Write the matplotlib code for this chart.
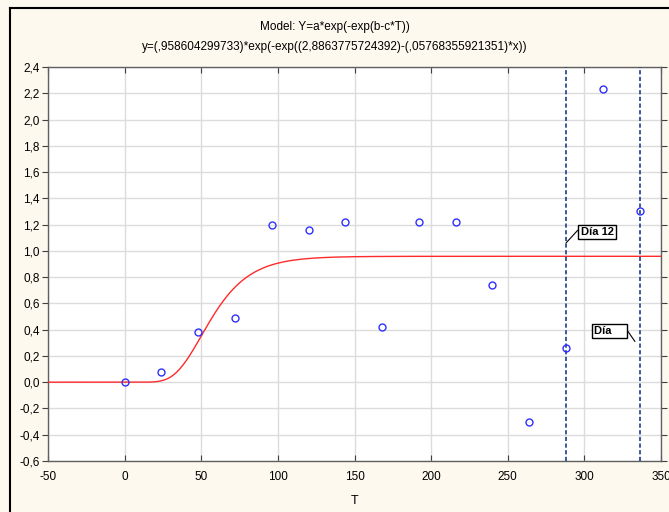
import matplotlib.pyplot as plt
import matplotlib.lines as mlines
import numpy as np

# observed points
t_obs = [0, 24, 48, 72, 96, 120, 144, 168, 192, 216, 240, 264, 288, 312, 336]
y_obs = [0.0, 0.08, 0.38, 0.49, 1.20, 1.16, 1.22, 0.42, 1.22, 1.22, 0.74, -0.30, 0.26, 2.23, 1.30]

# fitted gompertz model parameters (from the title)
a = 0.958604299733
b = 2.8863775724392
c = 0.05768355921351

# marker days
dia_lines = [288, 336]

xticks = [-50, 0, 50, 100, 150, 200, 250, 300, 350]
yticks = [-0.6, -0.4, -0.2, 0.0, 0.2, 0.4, 0.6, 0.8, 1.0, 1.2, 1.4, 1.6, 1.8, 2.0, 2.2, 2.4]

plt.rcParams['font.family'] = ['Liberation Sans', 'DejaVu Sans']

fig = plt.figure(figsize=(6.69, 5.12), dpi=100)
fig.patch.set_facecolor('#fdf9ee')
ax = fig.add_axes([48/669, 1 - 461/512, (661 - 48)/669, (461 - 67)/512])
ax.set_facecolor('white')

# window border (left + top)
fig.add_artist(mlines.Line2D([10/669, 10/669], [0, 1 - 8/512], color='black', lw=1.5, transform=fig.transFigure))
fig.add_artist(mlines.Line2D([10/669, 1], [1 - 8/512, 1 - 8/512], color='black', lw=1.5, transform=fig.transFigure))

tt = np.linspace(-50, 350, 600)
ax.plot(tt, a * np.exp(-np.exp(b - c * tt)), color='#ff2a2a', lw=1.0, zorder=3)
ax.plot(t_obs, y_obs, 'o', mfc='none', mec='#3030ff', mew=1.0, ms=5, zorder=4)

for d in dia_lines:
    ax.axvline(d, color='#1c3c8c', lw=1.2, ls=(0, (2.5, 1.5)), zorder=3)

box = dict(boxstyle='square,pad=0.2', fc='white', ec='black', lw=1)
ax.annotate('Día 12', xy=(288, 1.06), xytext=(297.5, 1.142), fontsize=8, fontweight='bold',
            va='center', ha='left', bbox=box,
            arrowprops=dict(arrowstyle='-', color='black', lw=0.8, shrinkA=0, shrinkB=0, relpos=(0, 1)))
ax.annotate('Día    ', xy=(333, 0.31), xytext=(306.5, 0.388), fontsize=8, fontweight='bold',
            va='center', ha='left', bbox=box,
            arrowprops=dict(arrowstyle='-', color='black', lw=0.8, shrinkA=0, shrinkB=0, relpos=(1, 1)))

ax.set_xlim(-50, 350)
ax.set_ylim(-0.6, 2.4)
ax.set_xticks(xticks)
ax.set_yticks(yticks)
ax.set_xticklabels([str(v) for v in xticks], fontsize=8.5)
ax.set_yticklabels([('%.1f' % v).replace('.', ',') for v in yticks], fontsize=8.5)
ax.grid(True, color='#dcdcdc', lw=1.0, zorder=0)
ax.set_axisbelow(True)
ax.tick_params(axis='y', direction='out', length=4, pad=2, color='#404040', left=True, right=True)
ax.tick_params(axis='x', direction='in', length=4, pad=7, color='#404040', top=True)
for s in ax.spines.values():
    s.set_color('#606060')
    s.set_linewidth(1.0)

ax.set_xlabel('T', fontsize=9, labelpad=9)
fig.text(0.5, 1 - 27/512, 'Model: Y=a*exp(-exp(b-c*T))', ha='center', va='center', fontsize=8.5)
fig.text(0.5, 1 - 47/512, 'y=(,958604299733)*exp(-exp((2,8863775724392)-(,05768355921351)*x))',
         ha='center', va='center', fontsize=8.5)

plt.savefig('out.png', dpi=100, facecolor=fig.get_facecolor())
